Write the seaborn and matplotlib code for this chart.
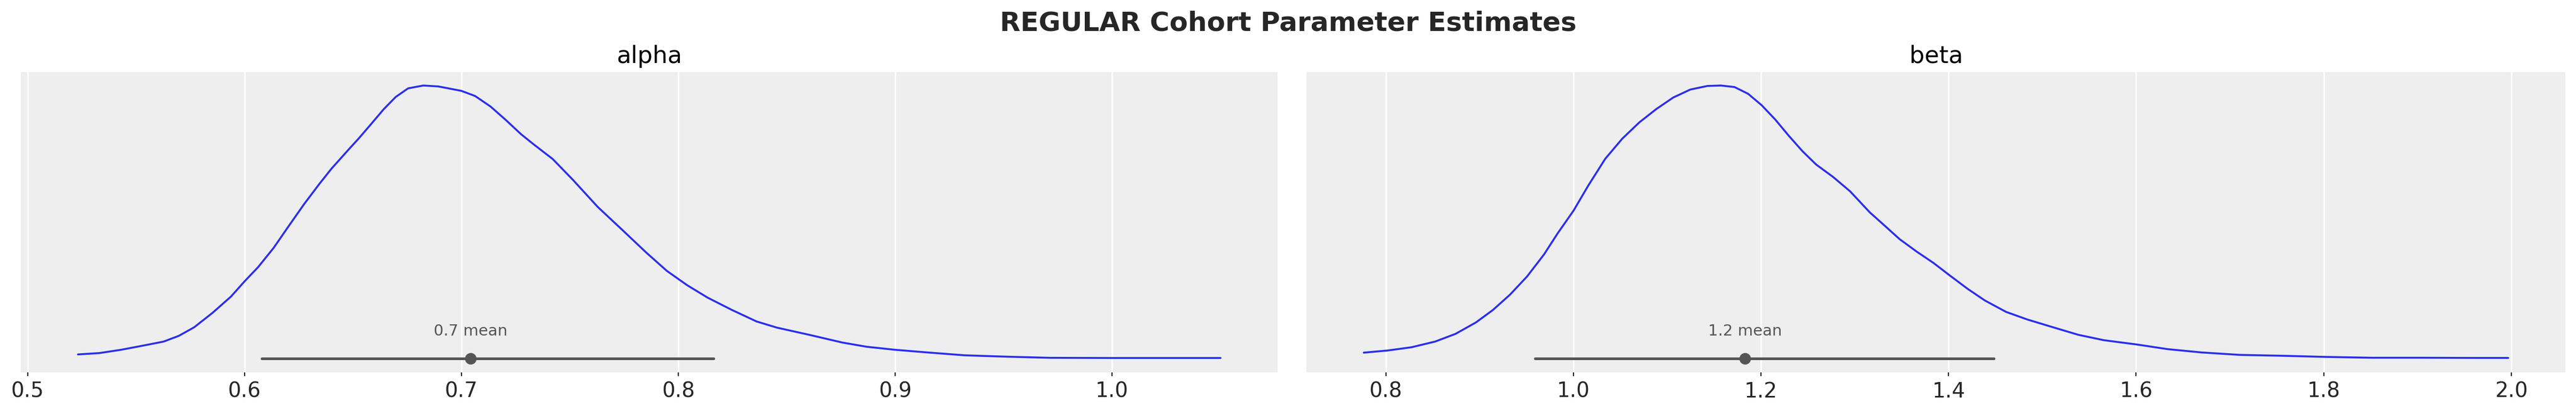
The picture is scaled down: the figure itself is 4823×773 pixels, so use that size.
import numpy as np
import pandas as pd
import seaborn as sns
import matplotlib
matplotlib.use("Agg")
import matplotlib.pyplot as plt

# posterior densities (x value, density)
alpha_x = [0.5232, 0.5331, 0.5430, 0.5528, 0.5627, 0.5697, 0.5768, 0.5852, 0.5937, 0.6000,
           0.6063, 0.6134, 0.6204, 0.6275, 0.6345, 0.6401, 0.6472, 0.6528, 0.6585, 0.6641,
           0.6697, 0.6754, 0.6824, 0.6894, 0.7000, 0.7063, 0.7134, 0.7204, 0.7275, 0.7328,
           0.7421, 0.7515, 0.7628, 0.7741, 0.7853, 0.7947, 0.8041, 0.8135, 0.8248, 0.8361,
           0.8455, 0.8605, 0.8756, 0.8868, 0.9000, 0.9150, 0.9320, 0.9508, 0.9714, 0.9996,
           1.0274, 1.0500]
alpha_dens = [0.117, 0.154, 0.242, 0.351, 0.465, 0.620, 0.853, 1.241, 1.681, 2.095,
              2.484, 3.001, 3.596, 4.191, 4.735, 5.149, 5.615, 5.977, 6.366, 6.754,
              7.090, 7.323, 7.400, 7.375, 7.255, 7.116, 6.832, 6.470, 6.081, 5.830,
              5.408, 4.839, 4.114, 3.493, 2.871, 2.380, 1.991, 1.655, 1.319, 1.009,
              0.842, 0.646, 0.439, 0.325, 0.242, 0.170, 0.093, 0.057, 0.025, 0.020,
              0.020, 0.020]

beta_x = [0.7764, 0.8018, 0.8272, 0.8526, 0.8743, 0.8961, 0.9142, 0.9324, 0.9505, 0.9686,
          0.9831, 1.0002, 1.0158, 1.0339, 1.0520, 1.0702, 1.0883, 1.1064, 1.1246, 1.1427,
          1.1572, 1.1717, 1.1862, 1.2007, 1.2152, 1.2297, 1.2442, 1.2588, 1.2769, 1.2950,
          1.3160, 1.3297, 1.3478, 1.3660, 1.3841, 1.4000, 1.4204, 1.4386, 1.4613, 1.4840,
          1.5112, 1.5384, 1.5656, 1.6001, 1.6337, 1.6700, 1.7109, 1.7608, 1.7998, 1.8516,
          1.9060, 1.9605, 1.9968]
beta_dens = [0.068, 0.092, 0.128, 0.192, 0.278, 0.406, 0.545, 0.716, 0.918, 1.164,
             1.399, 1.655, 1.933, 2.232, 2.456, 2.638, 2.787, 2.916, 3.005, 3.045,
             3.050, 3.033, 2.958, 2.830, 2.670, 2.488, 2.317, 2.168, 2.029, 1.869,
             1.634, 1.506, 1.335, 1.196, 1.068, 0.940, 0.780, 0.651, 0.523, 0.438,
             0.352, 0.267, 0.207, 0.160, 0.107, 0.070, 0.043, 0.032, 0.021, 0.011,
             0.011, 0.009, 0.009]

params = ["alpha", "beta"]
means = [0.7042, 1.1829]
mean_labels = ["0.7 mean", "1.2 mean"]
hdi_low = [0.6080, 0.9589]
hdi_high = [0.8163, 1.4480]

curves = {"alpha": (alpha_x, alpha_dens), "beta": (beta_x, beta_dens)}

sns.set_theme(style="darkgrid", rc={"axes.facecolor": "#eeeeee", "grid.color": "white",
                                    "grid.linewidth": 1.0})
plt.rcParams["font.family"] = ["DejaVu Sans"]

fig, axes = plt.subplots(1, 2, figsize=(24.115, 3.865), dpi=200)
positions = [[0.00809, 0.0983, 0.4879, 0.7277], [0.5072, 0.0983, 0.4887, 0.7277]]

for i, (ax, name) in enumerate(zip(axes, params)):
    ax.set_position(positions[i])
    xs, ds = curves[name]
    df = pd.DataFrame({"x": xs, "density": ds})
    sns.lineplot(data=df, x="x", y="density", ax=ax, color="#2a2eec", linewidth=1.3,
                 solid_joinstyle="round")
    # hdi line and mean point
    ax.plot([hdi_low[i], hdi_high[i]], [0, 0], color="#555555", lw=1.8, solid_capstyle="round")
    ax.plot([means[i]], [0], "o", color="#555555", markersize=6.8)
    ax.text(means[i], max(ds) * 0.1, mean_labels[i], ha="center", va="center",
            fontsize=10.5, color="#555555")
    ax.set_title(name, fontsize=16, color="black", pad=6)
    ax.set_xlabel("")
    ax.set_ylabel("")
    ax.set_yticks([])
    ax.grid(axis="x", color="white")
    ax.tick_params(axis="x", bottom=True, length=2.6, width=0.8, color="#222222",
                   labelsize=14, labelcolor="#262626", pad=3.5)
    for s in ax.spines.values():
        s.set_visible(False)

fig.text(0.5, 0.925, "REGULAR Cohort Parameter Estimates", ha="center", va="baseline",
         fontsize=18, fontweight="bold", color="#262626")

fig.savefig("out.png", dpi=200)
